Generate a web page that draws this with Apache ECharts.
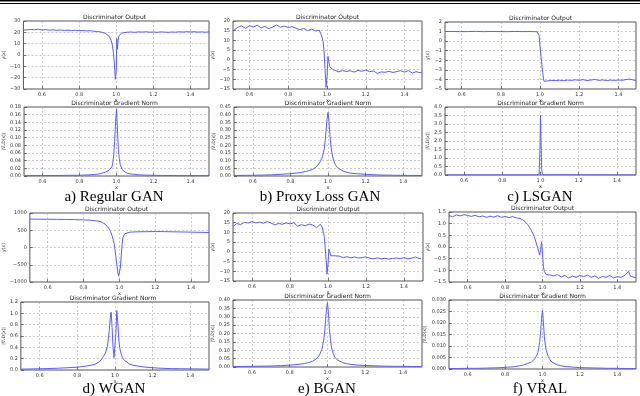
<!DOCTYPE html>
<html><head><meta charset="utf-8">
<script src="https://cdn.jsdelivr.net/npm/echarts@6/dist/echarts.min.js"></script>
<style>html,body{margin:0;padding:0;background:#fff}#c{width:640px;height:396px}</style>
</head><body><div id="c"></div>
<script>
// ---------- data ----------
const xTicks = [0.6, 0.8, 1.0, 1.2, 1.4];
const gradX = [0.50,0.55,0.60,0.65,0.70,0.75,0.80,0.85,0.88,0.90,0.92,0.94,0.95,0.96,0.97,0.975,0.98,0.985,0.99,0.995,1.0,1.005,1.01,1.015,1.02,1.03,1.04,1.05,1.06,1.08,1.10,1.12,1.15,1.20,1.25,1.30,1.35,1.40,1.45,1.50];

// a) Regular GAN
const aOutX = [0.50,0.52,0.54,0.56,0.58,0.60,0.62,0.64,0.66,0.68,0.70,0.72,0.74,0.76,0.78,0.80,0.82,0.84,0.86,0.88,0.90,0.92,0.94,0.95,0.96,0.97,0.975,0.98,0.985,0.99,0.995,1.0,1.003,1.006,1.01,1.015,1.02,1.03,1.04,1.06,1.08,1.10,1.12,1.14,1.16,1.18,1.20,1.22,1.24,1.26,1.28,1.30,1.32,1.34,1.36,1.38,1.40,1.42,1.44,1.46,1.48,1.50];
const aOutY = [22.0,22.2,22.6,22.3,22.8,22.1,22.4,21.9,22.2,21.8,22.0,21.7,21.9,21.6,21.8,21.5,21.6,21.3,21.4,21.0,20.7,20.2,19.2,18.3,16.8,14.0,11.5,8.0,2.0,-8.0,-21.5,-14.0,14.5,5.0,13.0,17.0,18.6,19.4,19.8,20.1,20.3,20.0,20.4,20.2,20.5,20.1,20.3,20.0,20.4,20.2,20.0,20.3,20.1,20.5,20.2,20.6,20.3,20.5,20.2,20.4,20.1,20.4];
const aGradY = [0.001,0.001,0.0012,0.0013,0.0015,0.0018,0.002,0.003,0.004,0.005,0.007,0.01,0.012,0.015,0.018,0.024,0.035,0.055,0.09,0.14,0.175,0.12,0.07,0.045,0.03,0.018,0.012,0.009,0.007,0.005,0.004,0.003,0.0025,0.0018,0.0015,0.0012,0.001,0.001,0.001,0.001];

// b) Proxy Loss GAN
const bOutX = [0.52,0.54,0.56,0.58,0.60,0.62,0.64,0.66,0.68,0.70,0.72,0.74,0.76,0.78,0.80,0.82,0.84,0.86,0.88,0.90,0.92,0.94,0.96,0.97,0.98,0.985,0.99,0.995,1.0,1.005,1.01,1.015,1.02,1.03,1.04,1.06,1.08,1.10,1.12,1.14,1.16,1.18,1.20,1.22,1.24,1.26,1.28,1.30,1.32,1.34,1.36,1.38,1.40,1.42,1.44,1.46,1.48,1.49];
const bOutY = [15.3,16.8,17.5,16.2,17.6,16.9,17.8,16.5,17.2,16.0,17.0,17.9,16.8,17.4,16.6,17.1,16.3,15.5,16.2,15.0,15.8,14.9,15.3,13.0,9.5,4.0,-5.0,-14.2,-9.0,1.8,-1.5,-3.5,-4.2,-5.0,-5.6,-6.2,-5.5,-6.0,-5.6,-6.3,-5.4,-5.9,-5.2,-6.1,-5.7,-7.0,-6.2,-6.4,-5.9,-6.5,-6.0,-5.6,-6.3,-5.5,-6.8,-6.1,-6.6,-6.2];
const bGradY = [0.003,0.004,0.005,0.006,0.008,0.011,0.015,0.022,0.029,0.035,0.045,0.062,0.075,0.095,0.125,0.15,0.18,0.23,0.30,0.37,0.415,0.36,0.27,0.20,0.155,0.10,0.072,0.055,0.045,0.032,0.024,0.019,0.015,0.011,0.008,0.006,0.005,0.004,0.004,0.003];

// c) LSGAN
const cOutX = [0.515,0.55,0.59,0.63,0.67,0.71,0.75,0.79,0.83,0.87,0.91,0.95,0.97,0.985,0.99,0.995,1.0,1.005,1.01,1.015,1.02,1.04,1.06,1.08,1.10,1.12,1.14,1.16,1.18,1.20,1.22,1.24,1.26,1.28,1.30,1.32,1.34,1.36,1.38,1.40,1.42,1.44,1.46,1.48,1.49];
const cOutY = [1.0,1.01,0.99,1.0,1.02,0.99,1.01,1.0,0.99,1.01,1.0,1.0,0.99,0.99,0.98,0.6,-0.5,-1.6,-2.6,-3.5,-4.2,-4.15,-4.1,-4.12,-4.08,-4.13,-4.07,-4.1,-4.04,-4.1,-4.02,-4.12,-4.06,-4.0,-4.1,-4.05,-4.12,-4.07,-4.1,-4.06,-4.09,-4.0,-3.97,-4.08,-4.1];
const cGradX = [0.50,0.98,0.99,0.993,0.997,1.0,1.003,1.006,1.01,1.02,1.50];
const cGradY = [0.001,0.002,0.01,0.05,1.5,3.5,2.0,0.4,0.02,0.002,0.001];

// d) WGAN
const dOutX = [0.50,0.55,0.60,0.65,0.70,0.75,0.80,0.84,0.88,0.90,0.92,0.94,0.95,0.96,0.97,0.975,0.98,0.985,0.99,0.995,1.0,1.005,1.01,1.015,1.02,1.03,1.04,1.06,1.08,1.10,1.15,1.20,1.25,1.30,1.35,1.40,1.45,1.50];
const dOutY = [825,822,818,815,812,808,800,790,765,740,680,560,470,330,120,-50,-250,-480,-680,-830,-820,-600,-250,100,300,400,430,445,450,455,458,462,460,455,450,445,440,435];
const dGradX = [0.50,0.55,0.60,0.65,0.70,0.75,0.80,0.85,0.88,0.90,0.92,0.94,0.95,0.96,0.965,0.97,0.975,0.98,0.985,0.99,0.995,1.0,1.005,1.01,1.015,1.02,1.025,1.03,1.04,1.05,1.06,1.08,1.10,1.15,1.20,1.25,1.30,1.35,1.40,1.45,1.50];
const dGradY = [0.015,0.018,0.022,0.026,0.032,0.04,0.05,0.07,0.09,0.11,0.15,0.24,0.30,0.42,0.55,0.70,0.92,1.02,0.75,0.40,0.22,0.25,0.65,1.05,0.85,0.55,0.40,0.32,0.22,0.17,0.14,0.10,0.08,0.055,0.04,0.03,0.025,0.022,0.02,0.018,0.016];

// e) BGAN
const eOutX = [0.50,0.52,0.54,0.56,0.58,0.60,0.62,0.64,0.66,0.68,0.70,0.72,0.74,0.76,0.78,0.80,0.82,0.84,0.86,0.88,0.90,0.92,0.94,0.96,0.97,0.98,0.985,0.99,0.995,1.0,1.005,1.01,1.015,1.02,1.03,1.04,1.06,1.08,1.10,1.12,1.14,1.16,1.18,1.20,1.22,1.24,1.26,1.28,1.30,1.32,1.34,1.36,1.38,1.40,1.42,1.44,1.46,1.48,1.49];
const eOutY = [13.0,14.6,14.0,15.2,14.8,15.6,14.9,15.3,14.7,15.6,14.8,13.9,14.6,14.2,14.9,14.4,15.0,13.2,14.0,13.4,14.3,13.8,12.5,14.2,12.5,8.0,2.5,-4.0,-11.5,-6.0,1.5,-0.5,-2.0,-2.4,-2.0,-2.8,-2.2,-3.0,-2.5,-3.1,-2.6,-3.2,-2.9,-2.6,-3.3,-3.5,-3.1,-3.6,-3.3,-3.7,-3.4,-3.2,-3.5,-3.0,-3.6,-3.2,-2.7,-3.4,-3.6];
const eGradY = [0.003,0.003,0.004,0.005,0.006,0.008,0.011,0.016,0.021,0.026,0.034,0.048,0.06,0.078,0.105,0.13,0.16,0.21,0.28,0.35,0.385,0.32,0.23,0.17,0.125,0.08,0.057,0.044,0.036,0.026,0.02,0.016,0.012,0.009,0.007,0.005,0.004,0.004,0.003,0.003];

// f) VRAL
const fOutX = [0.50,0.52,0.54,0.56,0.58,0.60,0.62,0.64,0.66,0.68,0.70,0.72,0.74,0.76,0.78,0.80,0.82,0.84,0.86,0.88,0.90,0.92,0.94,0.95,0.96,0.97,0.975,0.98,0.985,0.99,0.995,1.0,1.005,1.01,1.02,1.04,1.06,1.08,1.10,1.12,1.14,1.16,1.18,1.20,1.22,1.24,1.26,1.28,1.30,1.32,1.34,1.36,1.38,1.40,1.42,1.44,1.46,1.47,1.48,1.50];
const fOutY = [1.34,1.30,1.38,1.33,1.39,1.35,1.31,1.36,1.29,1.33,1.27,1.32,1.28,1.34,1.27,1.31,1.26,1.30,1.25,1.22,1.14,0.97,0.72,0.55,0.35,0.08,-0.05,-0.2,-0.35,-0.1,0.22,-0.3,-0.85,-1.05,-1.18,-1.2,-1.24,-1.18,-1.28,-1.22,-1.33,-1.25,-1.3,-1.22,-1.27,-1.2,-1.3,-1.24,-1.35,-1.26,-1.3,-1.22,-1.33,-1.27,-1.3,-1.22,-1.04,-1.25,-1.3,-1.32];
const fGradY = [0.0002,0.0002,0.0003,0.0003,0.0004,0.0005,0.0007,0.001,0.0014,0.0018,0.0024,0.003,0.0035,0.0045,0.006,0.0072,0.009,0.012,0.016,0.022,0.0255,0.02,0.014,0.0105,0.008,0.0055,0.004,0.003,0.0025,0.0018,0.0014,0.0011,0.0009,0.0006,0.0005,0.0004,0.0003,0.0003,0.0002,0.0002];

const captions = ['a) Regular GAN','b) Proxy Loss GAN','c) LSGAN','d) WGAN','e) BGAN','f) VRAL'];
const outTitle = 'Discriminator Output';
const gradTitle = 'Discriminator Gradient Norm';

// ---------- panel definitions (values + layout) ----------
const panels = [
  {x:aOutX, y:aOutY, ymin:-30, ymax:30, step:10, dec:0, xmin:0.5, xmax:1.5, box:[20,21,189,68], yname:'y(x)', gap:15, title:outTitle},
  {x:gradX, y:aGradY, ymin:0, ymax:0.18, step:0.02, dec:2, xmin:0.5, xmax:1.5, box:[20,107,189,69], yname:'|\u2207\u2093D(x)|', gap:16, title:gradTitle},
  {x:bOutX, y:bOutY, ymin:-15, ymax:20, step:5, dec:0, xmin:0.515, xmax:1.49, box:[233,21,189,68], yname:'y(x)', gap:15, title:outTitle},
  {x:gradX, y:bGradY, ymin:0, ymax:0.45, step:0.05, dec:2, xmin:0.5, xmax:1.5, box:[234,107,188,69], yname:'|\u2207\u2093D(x)|', gap:16, title:gradTitle},
  {x:cOutX, y:cOutY, ymin:-5, ymax:2, step:1, dec:0, xmin:0.515, xmax:1.49, box:[445,22,191,67], yname:'y(x)', gap:12, title:outTitle},
  {x:cGradX, y:cGradY, ymin:0, ymax:4, step:0.5, dec:1, xmin:0.5, xmax:1.5, box:[445,107,191,68], yname:'|\u2207\u2093D(x)|', gap:13, title:gradTitle},
  {x:dOutX, y:dOutY, ymin:-1000, ymax:1000, step:500, dec:0, xmin:0.5, xmax:1.5, box:[24,213,185,69], yname:'y(x)', gap:19, title:outTitle},
  {x:dGradX, y:dGradY, ymin:0, ymax:1.2, step:0.2, dec:1, xmin:0.5, xmax:1.5, box:[17,302,192,68], yname:'|\u2207\u2093D(x)|', gap:12, title:gradTitle},
  {x:eOutX, y:eOutY, ymin:-15, ymax:20, step:5, dec:0, xmin:0.5, xmax:1.5, box:[233,213,190,68], yname:'y(x)', gap:15, title:outTitle},
  {x:gradX, y:eGradY, ymin:0, ymax:0.40, step:0.05, dec:2, xmin:0.5, xmax:1.5, box:[233,300,189,67], yname:'|\u2207\u2093D(x)|', gap:16, title:gradTitle},
  {x:fOutX, y:fOutY, ymin:-1.5, ymax:1.5, step:0.5, dec:1, xmin:0.5, xmax:1.5, box:[449,212,187,70], yname:'y(x)', gap:16, title:outTitle},
  {x:gradX, y:fGradY, ymin:0, ymax:0.030, step:0.005, dec:3, xmin:0.5, xmax:1.5, box:[449,300,187,69], yname:'|\u2207\u2093D(x)|', gap:17, title:gradTitle}
];
const capPos = [[114,197],[320,197],[540,197],[114,389],[327,389],[540,389]];

const FONT = 'DejaVu Sans';
const LINE = '#5c5cff';
const fmtNum = (v, d) => { const s = Math.abs(v).toFixed(d); return (v < -1e-12 ? '\u2212' : '') + s; };

const grid = [], xAxis = [], yAxis = [], series = [], graphic = [];
panels.forEach((p, i) => {
  const [l, t, w, h] = p.box;
  grid.push({left:l, top:t, width:w, height:h, show:true, borderColor:'#555', borderWidth:1, backgroundColor:'#fff'});
  xAxis.push({
    type:'value', gridIndex:i, min:p.xmin, max:p.xmax, position:'bottom',
    name:'x', nameLocation:'middle', nameGap:9, nameTextStyle:{fontSize:5, fontFamily:FONT, color:'#333'},
    axisLine:{show:false, onZero:false},
    axisTick:{show:true, inside:true, length:3, customValues:xTicks, lineStyle:{color:'#444', width:0.7}},
    axisLabel:{customValues:xTicks, fontSize:5, fontFamily:FONT, color:'#333', margin:3, formatter:v=>fmtNum(v,1)},
    splitLine:{show:true, lineStyle:{color:'#aaa', type:[2,2], width:0.6}}
  });
  yAxis.push({
    type:'value', gridIndex:i, min:p.ymin, max:p.ymax, interval:p.step, position:'left',
    name:p.yname, nameLocation:'middle', nameGap:p.gap, nameRotate:90,
    nameTextStyle:{fontSize:4.5, fontFamily:FONT, color:'#333'},
    axisLine:{show:false, onZero:false},
    axisTick:{show:true, inside:true, length:3, lineStyle:{color:'#444', width:0.7}},
    axisLabel:{fontSize:5, fontFamily:FONT, color:'#333', margin:3, formatter:v=>fmtNum(v,p.dec)},
    splitLine:{show:true, lineStyle:{color:'#aaa', type:[2,2], width:0.6}}
  });
  series.push({
    type:'line', xAxisIndex:i, yAxisIndex:i, showSymbol:false, symbol:'none', animation:false,
    lineStyle:{color:LINE, width:1}, clip:true,
    data:p.x.map((xv, k) => [xv, p.y[k]])
  });
  graphic.push({type:'text', x:l + w/2, y:t - 3.5, style:{text:p.title, fontSize:6, fontFamily:FONT, fill:'#222', textAlign:'center', textVerticalAlign:'middle'}});
});
captions.forEach((c, i) => {
  graphic.push({type:'text', x:capPos[i][0], y:capPos[i][1], style:{text:c, fontSize:15, fontFamily:'Liberation Serif', fill:'#000', textAlign:'center', textVerticalAlign:'middle'}});
});
graphic.push({type:'rect', shape:{x:0, y:0, width:640, height:1.5}, style:{fill:'#000'}});
graphic.push({type:'rect', shape:{x:0, y:3, width:640, height:1}, style:{fill:'#000'}});

const chart = echarts.init(document.getElementById('c'), null, {renderer:'canvas'});
chart.setOption({animation:false, backgroundColor:'#fff', grid, xAxis, yAxis, series, graphic});
</script></body></html>
